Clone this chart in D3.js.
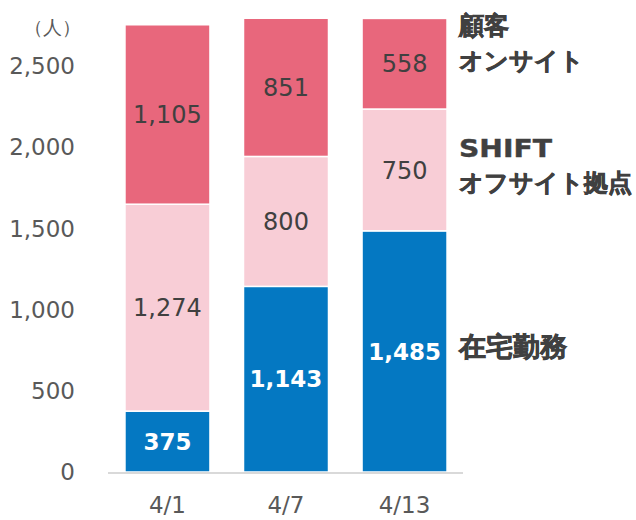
<!DOCTYPE html>
<html>
<head>
<meta charset="utf-8">
<script src="https://cdn.jsdelivr.net/npm/d3@7"></script>
<style>
  body { margin: 0; background: #fff; }
  text { font-family: "DejaVu Sans", Verdana, sans-serif; }
</style>
</head>
<body>
<svg id="chart" width="636" height="520"></svg>
<script>
// data
var dates = ["4/1", "4/7", "4/13"];
var remote = [375, 1143, 1485];
var offsite = [1274, 800, 750];
var onsite = [1105, 851, 558];
var yTicks = [0, 500, 1000, 1500, 2000, 2500];

var seriesKeys = ["remote", "offsite", "onsite"];
var colors = { remote: "#0478C2", offsite: "#F8CDD6", onsite: "#E8677C" };
var labelColors = { remote: "#fff", offsite: "#404040", onsite: "#404040" };

var rows = dates.map(function(d, i) {
  return { date: d, remote: remote[i], offsite: offsite[i], onsite: onsite[i] };
});

var svg = d3.select("#chart");

var x = d3.scaleBand().domain(dates).range([106, 466]).paddingInner(0.283).paddingOuter(0.16);
var y = d3.scaleLinear().domain([0, 2500]).range([472, 66]);

var stack = d3.stack().keys(seriesKeys)(rows);

// y axis labels
svg.append("g").selectAll("text")
  .data(yTicks)
  .enter().append("text")
  .attr("x", 75)
  .attr("y", function(d) { return y(d); })
  .attr("dy", "0.36em")
  .attr("text-anchor", "end")
  .attr("fill", "#595959")
  .attr("font-size", 23)
  .text(function(d) { return d3.format(",")(d); });

svg.append("text")
  .attr("x", 52).attr("y", 27)
  .attr("dy", "0.38em")
  .attr("text-anchor", "middle")
  .attr("fill", "#595959")
  .attr("font-size", 19)
  .attr("font-family", "'Noto Sans CJK JP', sans-serif")
  .text("（人）");

// bars
var groups = svg.append("g").selectAll("g")
  .data(stack)
  .enter().append("g")
  .attr("fill", function(s) { return colors[s.key]; });

groups.selectAll("rect")
  .data(function(s) { return s; })
  .enter().append("rect")
  .attr("x", function(d) { return x(d.data.date); })
  .attr("width", x.bandwidth())
  .attr("y", function(d) { return y(d[1]); })
  .attr("height", function(d) { return y(d[0]) - y(d[1]); })
  .attr("stroke", "#fff")
  .attr("stroke-width", 1.5);

// value labels
stack.forEach(function(s) {
  svg.append("g").selectAll("text")
    .data(s)
    .enter().append("text")
    .attr("x", function(d) { return x(d.data.date) + x.bandwidth() / 2; })
    .attr("y", function(d) { return (y(d[0]) + y(d[1])) / 2; })
    .attr("dy", "0.36em")
    .attr("text-anchor", "middle")
    .attr("fill", labelColors[s.key])
    .attr("font-size", s.key === "remote" ? 23 : 24)
    .attr("font-weight", s.key === "remote" ? "bold" : "normal")
    .text(function(d) { return d3.format(",")(d[1] - d[0]); });
});

// baseline
svg.append("line")
  .attr("x1", 108).attr("x2", 463)
  .attr("y1", y(0) + 1).attr("y2", y(0) + 1)
  .attr("stroke", "#d9d9d9")
  .attr("stroke-width", 2);

// x axis labels
svg.append("g").selectAll("text")
  .data(dates)
  .enter().append("text")
  .attr("x", function(d) { return x(d) + x.bandwidth() / 2; })
  .attr("y", 505)
  .attr("dy", "0.36em")
  .attr("text-anchor", "middle")
  .attr("fill", "#595959")
  .attr("font-size", 23)
  .text(function(d) { return d; });

// series names at right
var legend = [
  { text: "顧客", y: 24, size: 25 },
  { text: "オンサイト", y: 60, size: 24 },
  { text: "SHIFT", y: 148, size: 24, latin: true, len: 93 },
  { text: "オフサイト拠点", y: 182, size: 24 },
  { text: "在宅勤務", y: 346, size: 27 }
];
legend.forEach(function(l) {
  var tx = svg.append("text")
    .attr("x", 459)
    .attr("y", l.y)
    .attr("dy", l.latin ? "0.36em" : "0.38em")
    .attr("fill", "#404040")
    .attr("stroke", "#404040")
    .attr("stroke-width", l.latin ? 0.4 : 0.7)
    .attr("font-size", l.size)
    .attr("font-weight", "bold")
    .attr("font-family", l.latin ? "'DejaVu Sans', sans-serif" : "'Noto Sans CJK JP', sans-serif")
    .text(l.text);
  if (l.len) tx.attr("textLength", l.len).attr("lengthAdjust", "spacingAndGlyphs");
});
</script>
</body>
</html>
